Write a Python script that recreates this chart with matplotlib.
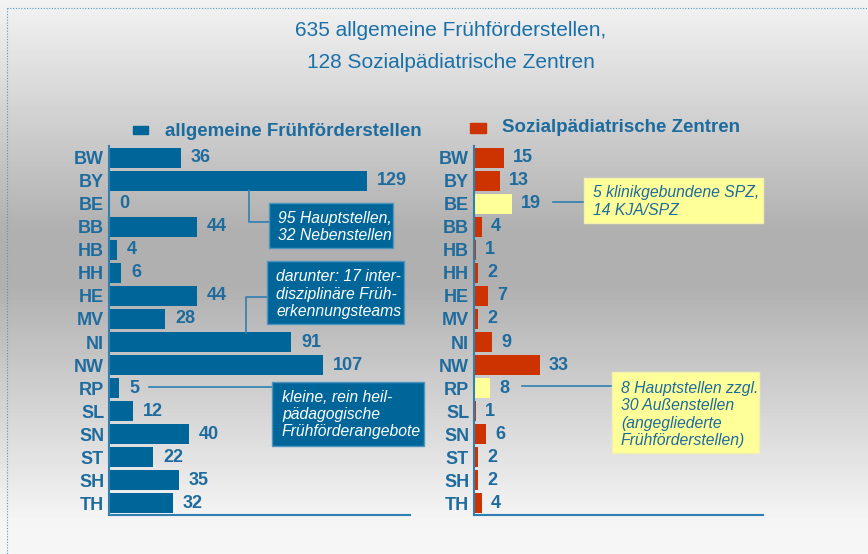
import numpy as np
import matplotlib
matplotlib.use("Agg")
import matplotlib.pyplot as plt
from matplotlib.patches import Rectangle
from matplotlib.lines import Line2D

plt.rcParams['font.family'] = ['Liberation Sans', 'DejaVu Sans']

states = ["BW", "BY", "BE", "BB", "HB", "HH", "HE", "MV",
          "NI", "NW", "RP", "SL", "SN", "ST", "SH", "TH"]
ff_values = [36, 129, 0, 44, 4, 6, 44, 28, 91, 107, 5, 12, 40, 22, 35, 32]
spz_values = [15, 13, 19, 4, 1, 2, 7, 2, 9, 33, 8, 1, 6, 2, 2, 4]
spz_special = ["BE", "RP"]

title_lines = ["635 allgemeine Frühförderstellen,", "128 Sozialpädiatrische Zentren"]
legend_ff = "allgemeine Frühförderstellen"
legend_spz = "Sozialpädiatrische Zentren"

BLUE = "#006699"
RED = "#cc3300"
YELLOW = "#ffff99"
TXT = "#1e6b9e"
LINE = "#2f7fb0"

W, H = 868, 554
fig = plt.figure(figsize=(W / 100, H / 100), dpi=100)


def fx(x):
    return x / W


def fy(y):
    return 1 - y / H


# background gradient
bg = fig.add_axes([0, 0, 1, 1], zorder=-10)
ys = np.arange(H)
grey = np.interp(ys, [0, 10, 230, 285, 520, 554], [0.95, 0.94, 0.69, 0.69, 0.96, 0.965])
img = np.repeat(grey[:, None], 2, axis=1)
bg.imshow(img, cmap="gray", vmin=0, vmax=1, aspect="auto", extent=[0, 1, 0, 1])
bg.set_axis_off()

# dotted frame lines
fig.add_artist(Line2D([fx(7), 1], [fy(8), fy(8)], color="#4a9ac8", lw=0.8, ls=(0, (1, 1.5))))
fig.add_artist(Line2D([fx(7), fx(7)], [fy(8), 0], color="#4a9ac8", lw=0.8, ls=(0, (1, 1.5))))

# title
fig.text(fx(451), fy(30), title_lines[0], ha="center", va="center", fontsize=15,
         color="#1a70a8")
fig.text(fx(451), fy(62), title_lines[1], ha="center", va="center", fontsize=15,
         color="#1a70a8")

ymin, ymax = -0.52, 15.52
y = np.arange(len(states))


def make_axes(x0, x1):
    top, bottom = 146, 515
    ax = fig.add_axes([fx(x0), fy(bottom), fx(x1) - fx(x0), (bottom - top) / H])
    ax.set_xlim(0, (x1 - x0) / 2)
    ax.set_ylim(ymax, ymin)
    ax.patch.set_alpha(0)
    for s in ["top", "right"]:
        ax.spines[s].set_visible(False)
    ax.spines["left"].set_color(LINE)
    ax.spines["bottom"].set_color(LINE)
    ax.spines["left"].set_linewidth(1.5)
    ax.spines["bottom"].set_linewidth(1.5)
    ax.set_xticks([])
    ax.set_yticks(y)
    ax.set_yticklabels(states, fontsize=13, fontweight="bold", color=TXT)
    ax.tick_params(axis="y", length=0, pad=3.5)
    return ax


ax1 = make_axes(109, 410)
ax1.barh(y, ff_values, height=0.83, color=BLUE)
for yi, v in zip(y, ff_values):
    ax1.text(v + 5, yi, str(v), va="center", ha="left", fontsize=13,
             fontweight="bold", color=TXT)

ax2 = make_axes(474, 763)
spz_colors = [YELLOW if s in spz_special else RED for s in states]
ax2.barh(y, spz_values, height=0.83, color=spz_colors)
for yi, v in zip(y, spz_values):
    ax2.text(v + 4.5, yi, str(v), va="center", ha="left", fontsize=13,
             fontweight="bold", color=TXT)

# legends
fig.add_artist(Rectangle((fx(133), fy(134)), fx(148) - fx(133), (134 - 126) / H,
                         color=BLUE, transform=fig.transFigure))
fig.text(fx(165), fy(131), legend_ff, ha="left", va="center", fontsize=13.5,
         fontweight="bold", color=TXT)
fig.add_artist(Rectangle((fx(470), fy(133)), fx(486) - fx(470), (133 - 123) / H,
                         color=RED, transform=fig.transFigure))
fig.text(fx(502), fy(128), legend_spz, ha="left", va="center", fontsize=13.5,
         fontweight="bold", color=TXT)


def note(ax, x0, x1, y0, y1, tx, ty, text, fc, ec, tc):
    ax.add_patch(Rectangle((x0, y0), x1 - x0, y1 - y0, facecolor=fc, edgecolor=ec,
                           lw=1, clip_on=False, zorder=3))
    ax.text(tx, ty, text, ha="left", va="center", fontsize=11.3, style="italic",
            color=tc, linespacing=1.2, zorder=4, clip_on=False)


def connector(ax, xs, ys_):
    ax.plot(xs, ys_, color=LINE, lw=1.2, clip_on=False, zorder=2)


# annotations left
connector(ax1, [70, 70, 80], [1.41, 2.78, 2.78])
note(ax1, 80, 142, 1.96, 3.91, 84.5, 3.0, "95 Hauptstellen,\n32 Nebenstellen",
     BLUE, "#4d94c0", "white")

connector(ax1, [68.5, 68.5, 79], [7.59, 6.04, 6.04])
note(ax1, 79, 147.5, 4.48, 7.22, 83.5, 5.93,
     "darunter: 17 inter-\ndisziplinäre Früh-\nerkennungsteams", BLUE, "#4d94c0", "white")

connector(ax1, [20, 81.5], [9.96, 9.96])
note(ax1, 81.5, 157.5, 9.74, 12.52, 86.5, 11.15,
     "kleine, rein heil-\npädagogische\nFrühförderangebote", BLUE, "#4d94c0", "white")

# annotations right
connector(ax2, [39.5, 55], [1.91, 1.91])
note(ax2, 55, 144.5, 0.87, 2.83, 59.5, 1.89,
     "5 klinikgebundene SPZ,\n14 KJA/SPZ", YELLOW, "#f4f0b0", TXT)

connector(ax2, [24, 69], [9.91, 9.91])
note(ax2, 69, 142.5, 9.3, 12.83, 73.5, 11.15,
     "8 Hauptstellen zzgl.\n30 Außenstellen\n(angegliederte\nFrühförderstellen)",
     YELLOW, "#f4f0b0", TXT)

fig.savefig("out.png", dpi=100)
